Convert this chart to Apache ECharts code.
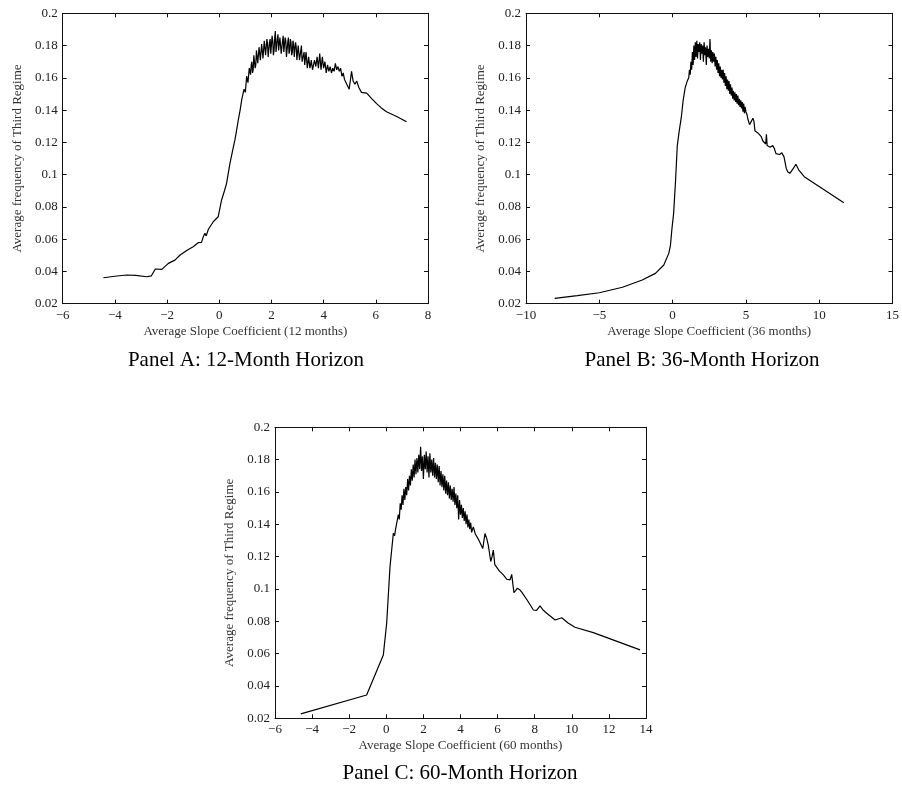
<!DOCTYPE html>
<html>
<head>
<meta charset="utf-8">
<script src="https://cdn.jsdelivr.net/npm/echarts@6/dist/echarts.min.js"></script>
<style>
html,body{margin:0;padding:0;background:#fff;}
#c{width:902px;height:787px;}
</style>
</head>
<body>
<div id="c"></div>
<script>
// ---------- DATA ----------
const panelTitles = ['Panel A: 12-Month Horizon', 'Panel B: 36-Month Horizon', 'Panel C: 60-Month Horizon'];
const xNames = ['Average Slope Coefficient (12 months)', 'Average Slope Coefficient (36 months)', 'Average Slope Coefficient (60 months)'];
const yName = 'Average frequency of Third Regime';
const xRanges = [[-6, 8, 2], [-10, 15, 5], [-6, 14, 2]];
const yRange = [0.02, 0.2, 0.02];

const panelA = [
[-4.44,0.0361],[-4.0,0.0370],[-3.55,0.0378],[-3.2,0.0376],[-2.78,0.0367],[-2.6,0.0373],[-2.45,0.0415],[-2.38,0.0425],
[-2.2,0.0413],[-1.95,0.0450],[-1.7,0.0470],[-1.5,0.0502],[-1.25,0.0530],[-1.0,0.0553],[-0.81,0.0578],[-0.68,0.0580],
[-0.6,0.0620],[-0.55,0.0636],[-0.5,0.0620],[-0.42,0.0660],[-0.35,0.0650],[-0.23,0.0708],[-0.04,0.0739],[0.09,0.0843],
[0.2,0.0900],[0.28,0.0946],[0.41,0.1070],[0.5,0.1140],[0.6,0.1215],[0.65,0.1260],[0.73,0.1340],[0.8,0.1400],[0.86,0.1463],
[0.90,0.147],[0.95,0.153],[1.00,0.151],[1.05,0.161],[1.10,0.157],[1.15,0.166],
[1.200,0.162],[1.225,0.168],[1.250,0.170],[1.275,0.163],[1.300,0.165],[1.325,0.174],[1.350,0.173],[1.375,0.166],
[1.400,0.168],[1.425,0.177],[1.450,0.176],[1.475,0.169],[1.500,0.170],[1.525,0.179],[1.550,0.178],[1.575,0.171],
[1.600,0.172],[1.625,0.181],[1.650,0.180],[1.675,0.172],[1.700,0.173],[1.725,0.183],[1.750,0.182],[1.775,0.174],
[1.800,0.175],[1.825,0.184],[1.850,0.181],[1.875,0.173],[1.900,0.174],[1.925,0.182],[1.950,0.184],[1.975,0.175],
[2.000,0.176],[2.025,0.186],[2.050,0.183],[2.075,0.174],[2.100,0.177],[2.125,0.185],[2.150,0.189],[2.175,0.176],
[2.200,0.175],[2.225,0.184],[2.250,0.187],[2.275,0.177],[2.300,0.178],[2.325,0.185],[2.350,0.184],[2.375,0.175],
[2.400,0.176],[2.425,0.183],[2.450,0.186],[2.475,0.176],[2.500,0.177],[2.525,0.185],[2.550,0.183],[2.575,0.173],
[2.600,0.174],[2.625,0.182],[2.650,0.185],[2.675,0.175],[2.700,0.177],[2.725,0.184],[2.750,0.182],[2.775,0.174],
[2.800,0.176],[2.825,0.183],[2.850,0.181],[2.875,0.173],[2.900,0.178],[2.925,0.182],[2.950,0.179],[2.975,0.171],
[3.000,0.172],[3.025,0.180],[3.050,0.181],[3.075,0.171],[3.100,0.170],[3.125,0.177],[3.150,0.180],[3.175,0.170],
[3.200,0.169],[3.225,0.174],[3.250,0.176],[3.275,0.168],[3.300,0.168],[3.325,0.176],[3.350,0.175],[3.375,0.166],
[3.400,0.167],[3.425,0.173],[3.450,0.174],[3.475,0.166],[3.500,0.168],[3.525,0.171],[3.550,0.172],[3.575,0.165],
[3.60,0.166],[3.65,0.171],[3.70,0.167],[3.75,0.173],[3.80,0.166],[3.85,0.175],[3.90,0.165],[3.95,0.173],[4.00,0.166],
[4.05,0.170],[4.10,0.163],[4.15,0.168],[4.20,0.164],[4.25,0.167],[4.30,0.163],[4.35,0.166],[4.40,0.164],[4.45,0.169],
[4.50,0.165],[4.55,0.167],[4.60,0.164],[4.65,0.166],[4.70,0.161],[4.75,0.163],[4.80,0.159],[4.85,0.160],
[4.92,0.155],[4.98,0.153],[5.07,0.164],[5.13,0.158],[5.20,0.156],[5.27,0.158],[5.35,0.154],[5.45,0.151],[5.65,0.1505],
[5.85,0.147],[6.03,0.144],[6.2,0.1415],[6.41,0.139],[6.8,0.136],[7.18,0.1328]
];

const panelB = [
[-8.04,0.0233],[-6.5,0.0250],[-5.0,0.0268],[-3.42,0.0302],[-2.07,0.0347],[-1.17,0.0388],[-0.6,0.0440],[-0.26,0.0512],
[-0.15,0.0560],[-0.05,0.0660],[0.07,0.0760],[0.2,0.0960],[0.32,0.1180],[0.45,0.1270],[0.6,0.1360],[0.72,0.1460],
[0.86,0.1540],[1.0,0.1580],
[1.10,0.160],[1.15,0.165],[1.20,0.162],[1.25,0.170],[1.30,0.165],[1.35,0.176],[1.40,0.168],[1.45,0.180],[1.50,0.171],
[1.55,0.182],[1.60,0.173],[1.65,0.183],[1.70,0.172],[1.75,0.181],[1.80,0.176],[1.85,0.182],[1.90,0.171],[1.95,0.181],
[2.00,0.175],[2.05,0.180],[2.10,0.170],[2.15,0.182],[2.20,0.174],[2.25,0.179],[2.30,0.168],[2.35,0.180],[2.40,0.173],
[2.45,0.178],[2.50,0.172],[2.55,0.184],[2.60,0.170],[2.65,0.177],[2.70,0.169],[2.75,0.176],[2.80,0.170],[2.85,0.175],
[2.90,0.167],[2.95,0.173],[3.00,0.165],[3.05,0.171],[3.10,0.163],[3.15,0.169],[3.20,0.161],[3.25,0.167],[3.30,0.160],
[3.35,0.165],[3.40,0.159],[3.45,0.165],[3.50,0.157],[3.55,0.163],[3.60,0.155],[3.65,0.161],[3.70,0.153],[3.75,0.159],
[3.80,0.152],[3.85,0.158],[3.90,0.150],[3.95,0.156],[4.00,0.149],[4.05,0.154],[4.10,0.147],[4.15,0.152],[4.20,0.146],
[4.25,0.151],[4.30,0.145],[4.35,0.150],[4.40,0.144],[4.45,0.149],[4.50,0.143],[4.55,0.147],[4.60,0.142],[4.65,0.146],
[4.70,0.141],[4.75,0.145],[4.80,0.139],[4.85,0.144],[4.90,0.138],[4.95,0.142],[5.00,0.139],[5.08,0.137],[5.15,0.134],
[5.25,0.131],[5.35,0.130],[5.48,0.135],[5.55,0.133],[5.62,0.127],[5.71,0.128],[5.80,0.126],[5.90,0.125],[6.05,0.1235],
[6.15,0.121],[6.25,0.120],[6.35,0.119],[6.40,0.125],[6.45,0.118],[6.55,0.119],[6.65,0.117],[6.83,0.118],[6.95,0.116],
[7.05,0.113],[7.17,0.1128],[7.3,0.1125],[7.45,0.1135],[7.6,0.111],[7.75,0.104],[7.85,0.1018],[8.0,0.1008],[8.1,0.101],
[8.25,0.104],[8.41,0.1064],[8.6,0.103],[8.98,0.0987],[11.68,0.0826]
];

const panelC = [
[-4.61,0.0227],[-1.06,0.0344],[-0.16,0.0592],[0.02,0.0788],[0.20,0.1138],[0.38,0.1345],[0.45,0.133],[0.5,0.137],[0.56,0.136],
[0.60,0.138],[0.65,0.146],[0.70,0.143],[0.75,0.153],[0.80,0.149],[0.85,0.158],[0.90,0.152],[0.95,0.162],[1.00,0.155],
[1.05,0.163],[1.10,0.158],[1.15,0.168],[1.20,0.161],[1.25,0.170],[1.30,0.164],[1.35,0.174],[1.40,0.167],[1.45,0.177],
[1.50,0.169],[1.55,0.180],[1.60,0.171],[1.65,0.181],[1.70,0.172],[1.75,0.183],[1.80,0.174],[1.85,0.188],[1.90,0.173],
[1.95,0.182],[2.00,0.168],[2.05,0.183],[2.10,0.174],[2.15,0.185],[2.20,0.172],[2.25,0.182],[2.30,0.169],[2.35,0.184],
[2.40,0.172],[2.45,0.180],[2.50,0.170],[2.55,0.181],[2.60,0.169],[2.65,0.178],[2.70,0.168],[2.75,0.177],[2.80,0.166],
[2.85,0.176],[2.90,0.164],[2.95,0.173],[3.00,0.163],[3.05,0.171],[3.10,0.161],[3.15,0.170],[3.20,0.159],[3.25,0.167],
[3.30,0.158],[3.35,0.166],[3.40,0.156],[3.45,0.164],[3.50,0.155],[3.55,0.162],[3.60,0.154],[3.65,0.163],[3.70,0.152],
[3.75,0.159],[3.80,0.150],[3.85,0.158],[3.90,0.143],[3.95,0.155],[4.00,0.146],[4.05,0.152],[4.10,0.144],[4.15,0.150],
[4.20,0.142],[4.25,0.148],[4.30,0.140],[4.35,0.146],[4.40,0.138],[4.45,0.143],[4.50,0.137],[4.55,0.141],[4.60,0.135],
[4.69,0.1384],[4.8,0.134],[4.95,0.131],[5.05,0.1312],[5.12,0.127],[5.2,0.125],[5.32,0.1343],[5.42,0.131],[5.5,0.127],
[5.63,0.117],[5.7,0.120],[5.77,0.124],[5.85,0.115],[5.95,0.114],[6.1,0.111],[6.31,0.1087],[6.5,0.106],[6.67,0.1056],
[6.76,0.109],[6.88,0.0977],[6.97,0.099],[7.06,0.1004],[7.2,0.0995],[7.3,0.098],[7.6,0.093],[7.93,0.087],[8.1,0.0868],
[8.29,0.0896],[8.45,0.087],[8.65,0.085],[9.1,0.0808],[9.46,0.0822],[9.8,0.079],[10.17,0.0763],[11.16,0.073],[13.68,0.0623]
];
const panels = [panelA, panelB, panelC];

// ---------- LAYOUT ----------
const grids = [
  {left: 62.7, top: 13.3, width: 365.3, height: 290.4},
  {left: 526, top: 13.3, width: 369.7, height: 290.4},
  {left: 275, top: 427.3, width: 371, height: 291}
];
const titlePos = [[246, 360], [702, 360], [460, 773]];
const FONT = "'Liberation Serif','Times New Roman',serif";
const INK = '#111';

const xAxes = [], yAxes = [], series = [];
grids.forEach((g, i) => {
  const [xmin, xmax, xint] = xRanges[i];
  const common = {
    type: 'value', gridIndex: i, splitLine: {show: false},
    axisLine: {show: true, onZero: false, lineStyle: {color: INK, width: 1}},
    axisTick: {show: true, inside: true, length: 4, lineStyle: {color: INK, width: 1}}
  };
  xAxes.push(Object.assign({}, common, {
    position: 'bottom', min: xmin, max: xmax, interval: xint,
    name: xNames[i], nameLocation: 'middle', nameGap: 21,
    nameTextStyle: {fontFamily: FONT, fontSize: 13, color: '#333'},
    axisLabel: {fontFamily: FONT, fontSize: 13, color: '#222', margin: 5,
      formatter: v => String(v).replace('-', '\u2212')}
  }));
  xAxes.push(Object.assign({}, common, {
    position: 'top', min: xmin, max: xmax, interval: xint, axisLabel: {show: false}
  }));
  yAxes.push(Object.assign({}, common, {
    position: 'left', min: yRange[0], max: yRange[1], interval: yRange[2],
    name: yName, nameLocation: 'middle', nameGap: 39,
    nameTextStyle: {fontFamily: FONT, fontSize: 13, color: '#333'},
    axisLabel: {fontFamily: FONT, fontSize: 13, color: '#222', margin: 5}
  }));
  yAxes.push(Object.assign({}, common, {
    position: 'right', min: yRange[0], max: yRange[1], interval: yRange[2], axisLabel: {show: false}
  }));
  series.push({
    type: 'line', xAxisIndex: i * 2, yAxisIndex: i * 2, data: panels[i],
    showSymbol: false, symbol: 'none', smooth: false,
    lineStyle: {color: '#000', width: 1.2}, silent: true
  });
});

const graphics = panelTitles.map((t, i) => ({
  type: 'text', x: titlePos[i][0], y: titlePos[i][1], silent: true,
  style: {text: t, font: "21px " + FONT, fill: '#000', textAlign: 'center', textVerticalAlign: 'middle', align: 'center', verticalAlign: 'middle'}
}));

const chart = echarts.init(document.getElementById('c'), null, {renderer: 'canvas'});
chart.setOption({
  backgroundColor: '#fff',
  animation: false,
  grid: grids,
  xAxis: xAxes,
  yAxis: yAxes,
  series: series,
  graphic: graphics
});
</script>
</body>
</html>
